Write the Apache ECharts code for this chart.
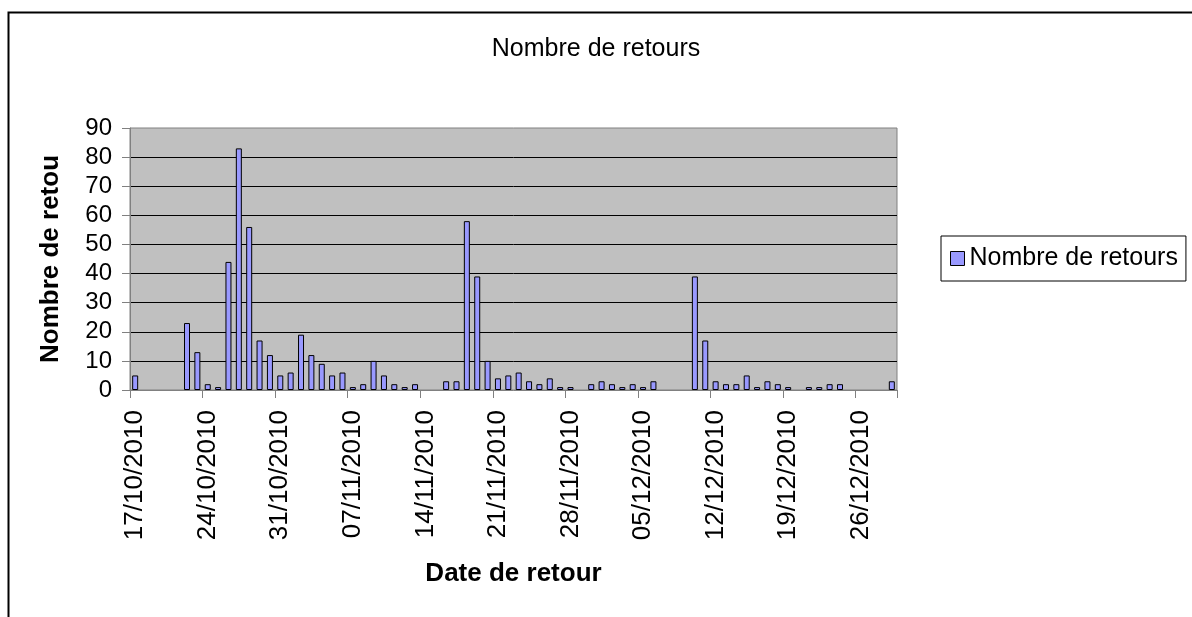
<!DOCTYPE html>
<html>
<head>
<meta charset="utf-8">
<script src="https://cdn.jsdelivr.net/npm/echarts@6/dist/echarts.min.js"></script>
<style>
html,body{margin:0;padding:0;background:#fff;}
#chart{width:1192px;height:617px;}
</style>
</head>
<body>
<div id="chart"></div>
<script>
// Categories: one per day, 17/10/2010 .. 29/12/2010
const startDate = new Date(2010, 9, 17);
const dayCount = 74;
const dates = [];
for (let i = 0; i < dayCount; i++) {
  const d = new Date(startDate.getFullYear(), startDate.getMonth(), startDate.getDate() + i);
  const dd = String(d.getDate()).padStart(2, '0');
  const mm = String(d.getMonth() + 1).padStart(2, '0');
  dates.push(dd + '/' + mm + '/' + d.getFullYear());
}

// Number of returns per day (0 = no bar)
const retours = [
  5, 0, 0, 0, 0, 23, 13, 2, 1, 44,
  83, 56, 17, 12, 5, 6, 19, 12, 9, 5,
  6, 1, 2, 10, 5, 2, 1, 2, 0, 0,
  3, 3, 58, 39, 10, 4, 5, 6, 3, 2,
  4, 1, 1, 0, 2, 3, 2, 1, 2, 1,
  3, 0, 0, 0, 39, 17, 3, 2, 2, 5,
  1, 3, 2, 1, 0, 1, 1, 2, 2, 0,
  0, 0, 0, 3
];

const chartTitle = 'Nombre de retours';
const seriesName = 'Nombre de retours';
const yAxisName = 'Nombre de retours';
const xAxisName = 'Date de retour';
const yTicks = {min: 0, max: 90, interval: 10};

const FONT = '"Liberation Sans", Arial, sans-serif';
const chart = echarts.init(document.getElementById('chart'), null, {renderer: 'canvas'});

chart.setOption({
  backgroundColor: '#ffffff',
  animation: false,
  graphic: [{
    type: 'rect',
    left: 6, top: 10,
    shape: {x: 0, y: 0, width: 1200, height: 620},
    style: {fill: 'none', stroke: '#000', lineWidth: 2},
    silent: true, z: -1
  }],
  title: {
    text: chartTitle,
    left: 'center',
    top: 32,
    textStyle: {fontFamily: FONT, fontSize: 25, fontWeight: 'normal', color: '#000'}
  },
  legend: {
    orient: 'vertical',
    left: 941,
    top: 236,
    padding: [10, 8, 10, 9],
    borderColor: '#000',
    borderWidth: 1,
    itemWidth: 14,
    itemHeight: 14,
    icon: 'rect',
    itemStyle: {borderColor: '#000', borderWidth: 1},
    textStyle: {fontFamily: FONT, fontSize: 25, color: '#000', padding: [0, 0, 0, 0]},
    data: [seriesName]
  },
  grid: {
    left: 130, right: 295, top: 128, bottom: 227,
    show: true,
    backgroundColor: '#C0C0C0',
    borderColor: '#808080',
    borderWidth: 1,
    containLabel: false
  },
  xAxis: {
    type: 'category',
    data: dates,
    boundaryGap: true,
    name: xAxisName,
    nameLocation: 'middle',
    nameGap: 171,
    nameTextStyle: {fontFamily: FONT, fontSize: 26, fontWeight: 'bold', color: '#000'},
    axisLine: {show: true, lineStyle: {color: '#808080', width: 1}},
    axisTick: {show: true, interval: 6, length: 8, lineStyle: {color: '#808080'}},
    axisLabel: {
      interval: 6,
      rotate: 90,
      margin: 20,
      fontFamily: FONT,
      fontSize: 26,
      color: '#000'
    },
    splitLine: {show: false}
  },
  yAxis: {
    type: 'value',
    min: yTicks.min,
    max: yTicks.max,
    interval: yTicks.interval,
    name: yAxisName,
    nameLocation: 'middle',
    nameGap: 66,
    nameTruncate: {maxWidth: 210, ellipsis: ''},
    nameTextStyle: {fontFamily: FONT, fontSize: 26, fontWeight: 'bold', color: '#000'},
    axisLine: {show: true, lineStyle: {color: '#808080', width: 1}},
    axisTick: {show: true, length: 8, lineStyle: {color: '#808080'}},
    axisLabel: {margin: 18, fontFamily: FONT, fontSize: 24, color: '#000'},
    splitLine: {show: true, showMinLine: false, showMaxLine: false, lineStyle: {color: '#000', width: 1}}
  },
  series: [{
    name: seriesName,
    type: 'bar',
    data: retours.map(v => (v === 0 ? null : v)),
    barWidth: 6,
    itemStyle: {color: '#9999FF', borderColor: '#000', borderWidth: 1}
  }]
});
</script>
</body>
</html>
